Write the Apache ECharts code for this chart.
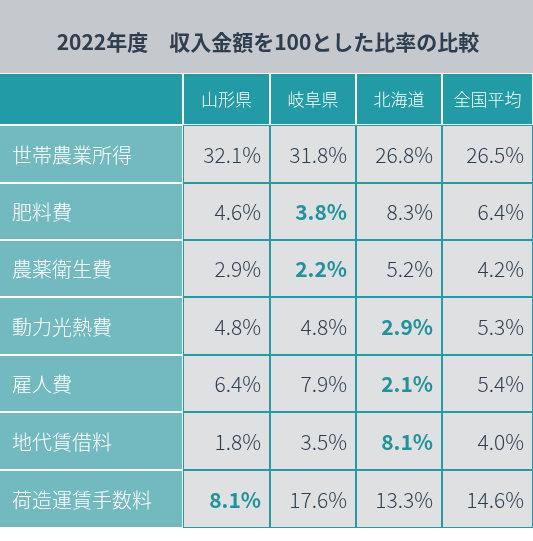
<!DOCTYPE html>
<html><head><meta charset="utf-8">
<script src="https://cdn.jsdelivr.net/npm/echarts@6/dist/echarts.min.js"></script>
<style>html,body{margin:0;padding:0;background:#fff}#c{width:533px;height:541px}</style>
</head><body><div id="c"></div>
<script>
const title = '2022年度　収入金額を100とした比率の比較';
const regions = ['山形県', '岐阜県', '北海道', '全国平均'];
const items = ['世帯農業所得', '肥料費', '農薬衛生費', '動力光熱費', '雇人費', '地代賃借料', '荷造運賃手数料'];
const yamagata = [32.1, 4.6, 2.9, 4.8, 6.4, 1.8, 8.1];
const gifu = [31.8, 3.8, 2.2, 4.8, 7.9, 3.5, 17.6];
const hokkaido = [26.8, 8.3, 5.2, 2.9, 2.1, 8.1, 13.3];
const zenkoku = [26.5, 6.4, 4.2, 5.3, 5.4, 4.0, 14.6];
// column index of highlighted (lowest) value per row, -1 for none
const highlight = [-1, 1, 1, 2, 2, 2, 0];

const values = [yamagata, gifu, hokkaido, zenkoku];
const colEdges = [0, 183, 270, 356, 442, 533];
const rowEdges = [73, 125, 183, 240, 297, 355, 412, 470, 528];

const cells = [];
for (let c = -1; c < regions.length; c++) {
  for (let r = -1; r < items.length; r++) cells.push([c, r]);
}

const chart = echarts.init(document.getElementById('c'));
chart.setOption({
  animation: false,
  grid: { left: 0, right: 0, top: 0, bottom: 0 },
  xAxis: { type: 'value', min: 0, max: 533, show: false },
  yAxis: { type: 'value', min: 0, max: 541, inverse: true, show: false },
  series: [{
    type: 'custom',
    data: cells,
    renderItem: function (params, api) {
      const c = api.value(0), r = api.value(1);
      const p0 = api.coord([colEdges[c + 1], rowEdges[r + 1]]);
      const p1 = api.coord([colEdges[c + 2], rowEdges[r + 2]]);
      const w = p1[0] - p0[0], h = p1[1] - p0[1];
      const children = [];
      let fill, text = '', tx, ty = p0[1] + h / 2 + 1, align, color, weight = 300, size = 20;
      if (r === -1) {
        fill = '#239ba6';
        if (c >= 0) { text = regions[c]; tx = p0[0] + w / 2; align = 'center'; color = '#fff'; size = 17; }
      } else if (c === -1) {
        fill = '#73b9c0';
        text = items[r]; tx = p0[0] + 12; align = 'left'; color = '#fff';
      } else {
        fill = '#dfe0e2';
        text = values[c][r].toFixed(1) + '%'; tx = p1[0] - 9; align = 'right'; size = 21;
        if (highlight[r] === c) { color = '#1f929b'; weight = 'bold'; } else { color = '#2f3e4e'; }
      }
      const white = r === -1 || c === -1;
      children.push({
        type: 'rect',
        shape: { x: p0[0], y: p0[1], width: w, height: h },
        style: { fill: white ? '#fff' : '#239ba6' }
      });
      children.push({
        type: 'rect',
        shape: { x: p0[0] + (c === -1 ? 0 : 1), y: p0[1] + 1, width: w - (c === -1 ? 1 : 2), height: h - 2 },
        style: { fill: fill }
      });
      if (text) children.push({
        type: 'text',
        style: { x: tx, y: ty, text: text, textAlign: align, textVerticalAlign: 'middle', fill: color, fontSize: size, fontWeight: weight, fontFamily: 'Noto Sans CJK JP' }
      });
      return { type: 'group', children: children };
    }
  }, {
    type: 'custom',
    data: [[0]],
    renderItem: function (params, api) {
      const p0 = api.coord([0, 0]), p1 = api.coord([533, 73]);
      const m = api.coord([268, 42]);
      return { type: 'group', children: [
        { type: 'rect', shape: { x: p0[0], y: p0[1], width: p1[0] - p0[0], height: p1[1] - p0[1] }, style: { fill: '#c5c8cc' } },
        { type: 'text', style: { x: m[0], y: m[1], text: title, textAlign: 'center', textVerticalAlign: 'middle', fill: '#2f3e4e', fontSize: 21, fontWeight: 'bold', fontFamily: 'Noto Sans CJK JP' } }
      ] };
    }
  }]
});
</script></body></html>
